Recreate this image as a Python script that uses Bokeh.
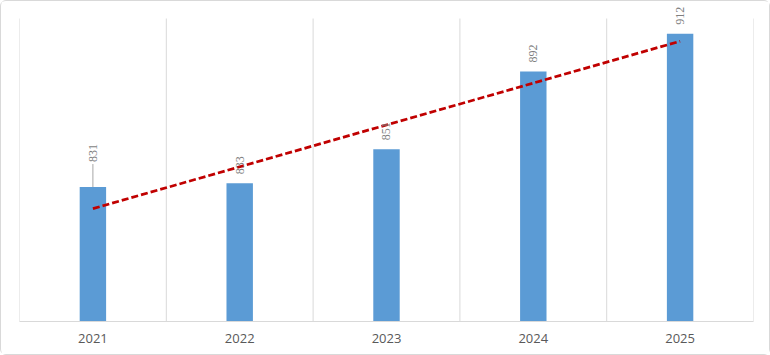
import numpy as np
from bokeh.plotting import figure
from bokeh.models import FactorRange, Range1d, ColumnDataSource, LabelSet
from bokeh.embed import file_html
from bokeh.resources import INLINE

# ---- data ----
years = ["2021", "2022", "2023", "2024", "2025"]
values = [831, 833, 851, 892, 912]
y_min, y_max = 760, 920

# ---- style ----
bar_color = "#5b9bd5"
trend_color = "#c00000"
label_color = "#7f7f7f"
axis_label_color = "#595959"
grid_color = "#d9d9d9"
label_lift_px = [25, 9, 9, 9, 9]   # 2021 label is pushed up with a leader line

W, H = 770, 355
ml, mr, mb = 18, 18, 35
plot_top_px = 17            # where the plot area (gridlines) starts
mt = 1
plot_h = H - plot_top_px - mb
px_per_unit = plot_h / (y_max - y_min)
y_top = y_max + (plot_top_px - mt) / px_per_unit   # headroom so labels are not clipped

p = figure(width=W, height=H, x_range=FactorRange(*years, range_padding=0),
           y_range=Range1d(y_min, y_top), output_backend="svg",
           toolbar_location=None, min_border_left=ml, min_border_right=mr,
           min_border_top=mt, min_border_bottom=mb)
p.styles = {"border": "1px solid #d9d9d9", "border-radius": "6px", "box-sizing": "border-box"}
p.outline_line_color = None
p.background_fill_color = "white"
p.border_fill_color = "white"
p.yaxis.visible = False
p.xgrid.visible = False
p.ygrid.visible = False

# category-boundary gridlines (span only the plot area)
bounds = list(range(len(years) + 1))
p.segment(x0=bounds, x1=bounds, y0=[y_min] * len(bounds), y1=[y_max] * len(bounds),
          line_color=grid_color, line_width=1)

src = ColumnDataSource(dict(x=years, top=values,
                            lab=[str(v) for v in values],
                            off=list(label_lift_px)))

p.vbar(x="x", top="top", bottom=y_min, width=0.18, source=src,
       fill_color=bar_color, line_color=None)

# leader line only where label is lifted
lead_idx = [i for i, l in enumerate(label_lift_px) if l > 12]
p.segment(x0=[years[i] for i in lead_idx], y0=[values[i] for i in lead_idx],
          x1=[years[i] for i in lead_idx],
          y1=[values[i] + (label_lift_px[i] - 2) / px_per_unit for i in lead_idx],
          line_color="#a6a6a6", line_width=1)

# linear trendline
xs = np.arange(1, len(values) + 1)
slope, intercept = np.polyfit(xs, values, 1)
p.line(x=[years[0], years[-1]], y=[intercept + slope * xs[0], intercept + slope * xs[-1]],
       line_color=trend_color, line_width=2.75, line_dash="7 3")

# value labels, rotated
labels = LabelSet(x="x", y="top", text="lab", source=src, angle=np.pi / 2,
                  text_align="left", text_baseline="middle", y_offset="off",
                  text_font_size="12px", text_color=label_color, text_font="Open Sans")
p.add_layout(labels)

ax = p.xaxis[0]
ax.axis_line_color = grid_color
ax.major_tick_line_color = None
ax.minor_tick_line_color = None
ax.major_label_text_color = axis_label_color
ax.major_label_text_font_size = "13px"
ax.major_label_text_font = "Open Sans"
ax.major_label_standoff = 6

open("out.html", "w").write(file_html(p, INLINE))
